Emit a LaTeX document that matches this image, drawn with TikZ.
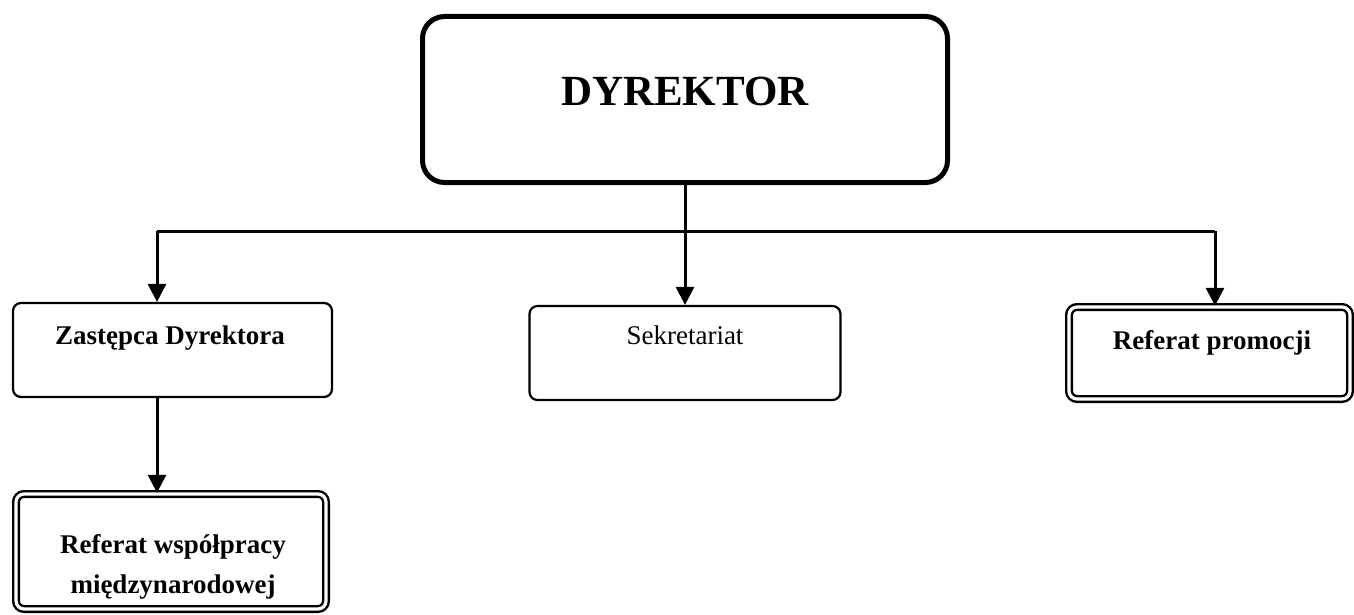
\documentclass[tikz,border=0pt]{standalone}
\usepackage{fontspec}
\setmainfont{Liberation Serif}
\usetikzlibrary{arrows.meta}
\begin{document}
\begin{tikzpicture}[x=0.5pt,y=-0.5pt,
  box/.style={draw, rounded corners=4pt, line width=1.1pt, inner sep=0pt},
  dblbox/.style={box, double, line width=1.2pt, double distance=1.6pt},
  conn/.style={line width=1.5pt},
  arr/.style={conn, -{Triangle[length=9pt,width=9pt]}},
  lbl/.style={font=\fontsize{13.5}{20}\selectfont\bfseries, align=center, inner sep=0pt},
]
\useasboundingbox (0,0) rectangle (1354,615);

% boxes
\node[box, line width=2.5pt, rounded corners=11pt, minimum width=262.5pt, minimum height=83pt] (dir) at (685,99.5) {};
\node[box, minimum width=159.5pt, minimum height=47pt] (zas) at (172.5,350) {};
\node[box, minimum width=155.5pt, minimum height=47pt] (sek) at (685,353) {};
\node[dblbox, minimum width=140.5pt, minimum height=46pt] (pro) at (1209.5,353) {};
\node[dblbox, minimum width=155pt, minimum height=57.5pt] (wsp) at (171,551.5) {};

% labels
\node[font=\fontsize{21.5}{26}\selectfont\bfseries, inner sep=0pt] (dirT) at (685,91) {DYREKTOR};
\node[lbl] (zasT) at (170,338) {Zastępca Dyrektora};
\node[lbl, font=\fontsize{13.5}{20}\selectfont] (sekT) at (685,335) {Sekretariat};
\node[lbl] (proT) at (1212,343) {Referat promocji};
\node[lbl] (wspT) at (173,567) {Referat współpracy\\międzynarodowej};

% connectors
\coordinate (lft) at (157,231);
\coordinate (rgt) at (1215,231);
\draw[conn] (lft) -- (rgt);
\draw[arr] (dir.south) -- (sek.north);
\draw[arr] (lft) -- (lft |- zas.north);
\draw[arr] (rgt) -- (rgt |- pro.north);
\draw[arr] (lft |- zas.south) -- (lft |- wsp.north);
\end{tikzpicture}
\end{document}
